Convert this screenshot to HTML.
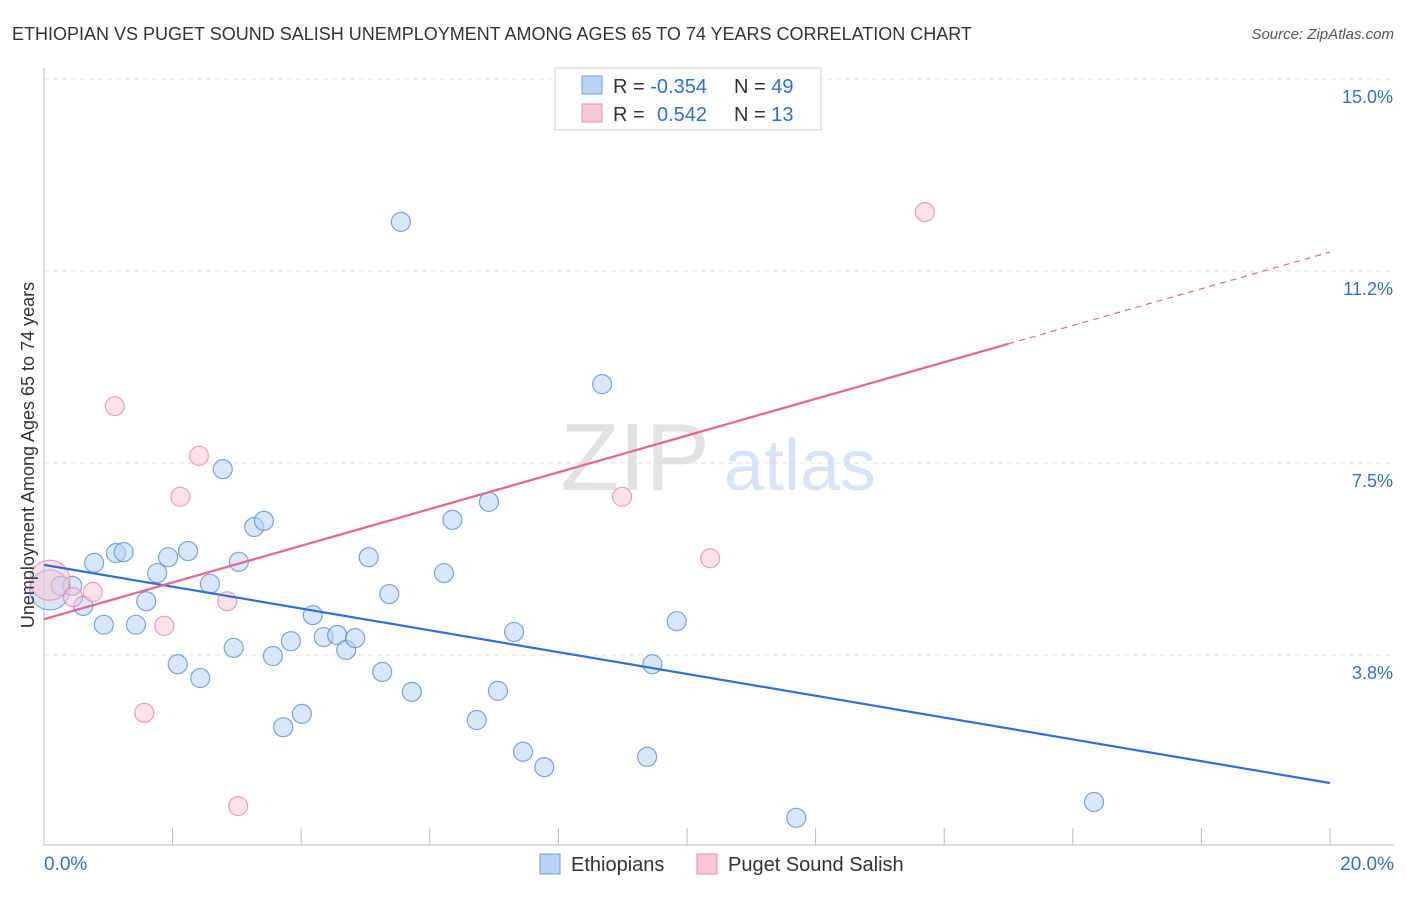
<!DOCTYPE html>
<html><head><meta charset="utf-8"><style>
body{margin:0;background:#fff;font-family:"Liberation Sans",sans-serif}
svg text{font-family:"Liberation Sans",sans-serif}
</style></head><body>
<svg id="chart" width="1406" height="892" xmlns="http://www.w3.org/2000/svg">
<text x="12" y="40" font-size="18" fill="#333">ETHIOPIAN VS PUGET SOUND SALISH UNEMPLOYMENT AMONG AGES 65 TO 74 YEARS CORRELATION CHART</text>
<text x="1394" y="39" font-size="15" fill="#555" font-style="italic" text-anchor="end">Source: ZipAtlas.com</text>
<g>
<text x="635" y="490" font-size="96" fill="#e2e2e2" font-family="Liberation Serif" text-anchor="middle">ZIP</text>
<text x="800" y="490" font-size="72" fill="#d6e4f5" text-anchor="middle">atlas</text>
</g>
<g id="grid"></g>
<g id="marks"></g>
<text transform="translate(34,455) rotate(-90)" font-size="18" fill="#333" text-anchor="middle">Unemployment Among Ages 65 to 74 years</text>
<g>
<rect x="555" y="68" width="266" height="62" fill="#fff" stroke="#ccc"/>
<rect x="582" y="76" width="20" height="18" fill="#b8d3f5" stroke="#6f9fe0"/>
<rect x="582" y="104" width="20" height="18" fill="#f9c8d6" stroke="#e88aa8"/>
<text x="613" y="93" font-size="20" fill="#333">R = <tspan fill="#2f6fd6">-0.354</tspan><tspan x="734">N = </tspan><tspan fill="#2f6fd6">49</tspan></text>
<text x="613" y="121" font-size="20" fill="#333">R = <tspan x="657" fill="#2f6fd6">0.542</tspan><tspan x="734">N = </tspan><tspan fill="#2f6fd6"> 13</tspan></text>
</g>
<g>
<rect x="540" y="854" width="20" height="20" fill="#b8d3f5" stroke="#6f9fe0"/>
<text x="571" y="871" font-size="20" fill="#333">Ethiopians</text>
<rect x="697" y="854" width="20" height="20" fill="#f9c8d6" stroke="#e88aa8"/>
<text x="728" y="871" font-size="20" fill="#333">Puget Sound Salish</text>
</g>
<text x="44" y="870" font-size="19" fill="#2f6fd6">0.0%</text>
<text x="1394" y="870" font-size="19" fill="#2f6fd6" text-anchor="end">20.0%</text>
</svg>
<script>
const blueX=[0.09,0.26,0.44,0.61,0.78,0.93,1.12,1.24,1.43,1.59,1.76,1.93,2.08,2.24,2.43,2.58,2.78,2.95,3.03,3.27,3.42,3.56,3.72,3.84,4.01,4.18,4.35,4.56,4.70,4.84,5.05,5.26,5.37,5.55,5.72,6.22,6.35,6.73,6.92,7.06,7.31,7.45,7.78,8.68,9.38,9.46,9.84,11.70,16.33];
const blueY=[5.02,5.10,5.10,4.71,5.55,4.34,5.74,5.76,4.34,4.80,5.35,5.66,3.57,5.78,3.30,5.14,7.38,3.89,5.57,6.25,6.37,3.73,2.34,4.02,2.60,4.53,4.10,4.14,3.85,4.08,5.66,3.42,4.94,12.21,3.03,5.35,6.39,2.48,6.74,3.05,4.20,1.86,1.56,9.04,1.76,3.57,4.41,0.57,0.88];
const pinkX=[0.09,0.45,0.76,1.10,1.56,1.87,2.12,2.41,2.85,3.02,8.99,10.36,13.70];
const pinkY=[5.21,4.88,4.98,8.61,2.62,4.32,6.84,7.64,4.80,0.80,6.84,5.64,12.40];
const blueTrend=[5.51,1.25];   // y at x=0 and x=20
const pinkTrend=[4.45,11.62];  // y at x=0 and x=20
const pinkSolidEnd=15.0;
const yTicks=[3.8,7.5,11.2,15.0];
const yTickLabels=["3.8%","7.5%","11.2%","15.0%"];
const xTicks=[2,4,6,8,10,12,14,16,18,20];
const X0=44,X1=1330,Y0=847,PXY=51.2;
const sx=v=>X0+(X1-X0)*v/20;
const sy=v=>Y0-(v/3.75*192)*(3.75/3.75);
const SY=v=>Y0-v*PXY;
const NS="http://www.w3.org/2000/svg";
function mk(t,a,p){const e=document.createElementNS(NS,t);for(const k in a)e.setAttribute(k,a[k]);p.appendChild(e);return e;}
const grid=document.getElementById('grid'),marks=document.getElementById('marks');
const ya=mk('line',{x1:44,y1:68,x2:44,y2:845,stroke:'#bbb'},grid);


const xa=mk('line',{x1:44,y1:845,x2:1394,y2:845,stroke:'#bbb'},grid);


const tv=[3.75,7.5,11.25,15];
yTicks.forEach((t,i)=>{const y=SY(tv[i]);
const g=mk('line',{x1:44,y1:y,x2:1394,y2:y,stroke:'#ddd','stroke-dasharray':'5,4'},grid);


const l=mk('text',{x:1393,y:y+24,'font-size':18,fill:'#2f6fd6','text-anchor':'end'},grid);


l.textContent=yTickLabels[i];});
xTicks.forEach(t=>{const x=sx(t);
const k=mk('line',{x1:x,y1:828,x2:x,y2:845,stroke:'#bbb'},grid);

});
function dots(xs,ys,fill,stroke,name){xs.forEach((v,i)=>{const r=i===0?20:9.5;
const c=mk('circle',{cx:sx(v),cy:SY(ys[i]),r:r,fill:fill,'fill-opacity':0.55,stroke:stroke,'stroke-opacity':0.8,'stroke-width':1.2},marks);

});}
dots(blueX,blueY,'#b8d3f5','#5b8fdc','point-ethiopians');
dots(pinkX,pinkY,'#f9c8d6','#e88aa8','point-puget-sound-salish');
const bl=mk('line',{x1:sx(0),y1:SY(blueTrend[0]),x2:sx(20),y2:SY(blueTrend[1]),stroke:'#2f6fd6','stroke-width':2.2},marks);


const pm=pinkTrend[0]+(pinkTrend[1]-pinkTrend[0])*pinkSolidEnd/20;
const pl=mk('line',{x1:sx(0),y1:SY(pinkTrend[0]),x2:sx(pinkSolidEnd),y2:SY(pm),stroke:'#e2668f','stroke-width':2.2},marks);


const pd=mk('line',{x1:sx(pinkSolidEnd),y1:SY(pm),x2:sx(20),y2:SY(pinkTrend[1]),stroke:'#e2668f','stroke-width':1.2,'stroke-dasharray':'6,5'},marks);


</script>
</body></html>
